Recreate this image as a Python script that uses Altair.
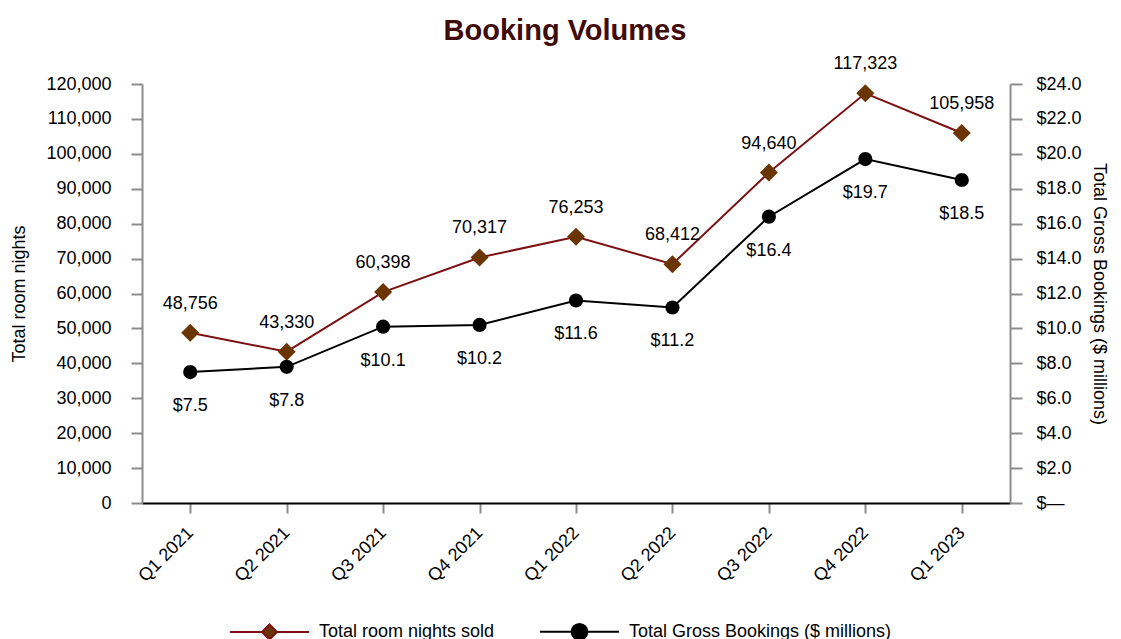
import altair as alt
import pandas as pd

quarters = ["Q1 2021", "Q2 2021", "Q3 2021", "Q4 2021", "Q1 2022",
            "Q2 2022", "Q3 2022", "Q4 2022", "Q1 2023"]
room_nights = [48756, 43330, 60398, 70317, 76253, 68412, 94640, 117323, 105958]
gross_bookings = [7.5, 7.8, 10.1, 10.2, 11.6, 11.2, 16.4, 19.7, 18.5]
series_names = ["Total room nights sold", "Total Gross Bookings ($ millions)"]
left_ticks = list(range(0, 120001, 10000))
right_ticks = list(range(0, 25, 2))

df = pd.DataFrame({"quarter": quarters, "rooms": room_nights, "bookings": gross_bookings})

FONT = "Liberation Sans"
ROOM_LINE = "#7b1113"
ROOM_MARK = "#6b3404"
BOOK = "#000000"
GRAY = "#8c8c8c"
TITLE_COLOR = "#3f0b0b"

diamond_path = "M-1,0H-0.19M0.19,0H1M0,-0.19L0.19,0L0,0.19L-0.19,0Z"
circle_path = ("M-1,0H-0.2M0.2,0H1M-0.2,0A0.2,0.2,0,1,0,0.2,0"
               "A0.2,0.2,0,1,0,-0.2,0Z")

x_enc = alt.X(
    "quarter:N", sort=quarters, title=None,
    scale=alt.Scale(type="point", padding=0.5),
    axis=alt.Axis(labelAngle=-45, labelAlign="right", labelBaseline="middle",
                  domainColor="#000000", domainWidth=2, tickColor=GRAY,
                  tickWidth=2, tickSize=10, labelPadding=17, labelFontSize=18,
                  labelFont=FONT, labelColor="#000000"),
)

y_left = alt.Y(
    "rooms:Q", scale=alt.Scale(domain=[0, 120000], nice=False),
    axis=alt.Axis(values=left_ticks, format=",.0f", title="Total room nights",
                  grid=False, domainColor=GRAY, domainWidth=2, tickColor=GRAY,
                  tickWidth=2, tickSize=11, labelPadding=20, labelFontSize=18,
                  labelFont=FONT, labelColor="#000000", titleFont=FONT,
                  titleFontSize=18, titleFontWeight="normal", titleColor="#000000",
                  titlePadding=17),
)

y_right = alt.Y(
    "bookings:Q", scale=alt.Scale(domain=[0, 24], nice=False),
    axis=alt.Axis(orient="right", values=right_ticks,
                  labelExpr="datum.value == 0 ? '$\u2014' : '$' + format(datum.value, '.1f')",
                  title="Total Gross Bookings ($ millions)",
                  grid=False, domainColor=GRAY, domainWidth=2, tickColor=GRAY,
                  tickWidth=2, tickSize=12, labelPadding=14, labelFontSize=18,
                  labelFont=FONT, labelColor="#000000", titleFont=FONT,
                  titleFontSize=18, titleFontWeight="normal", titleColor="#000000",
                  titlePadding=8),
)

base = alt.Chart(df)

rooms_line = base.mark_line(color=ROOM_LINE, strokeWidth=2).encode(x=x_enc, y=y_left)
rooms_pts = base.mark_point(shape="diamond", filled=True, size=324, color=ROOM_MARK,
                            opacity=1).encode(x=x_enc, y=y_left)
rooms_txt = base.mark_text(dy=-29, fontSize=18, font=FONT, color="#000000").encode(
    x=x_enc, y=y_left, text=alt.Text("rooms:Q", format=","))

legend = alt.Legend(title=None, orient="none", legendX=87, legendY=507,
                    direction="horizontal", symbolSize=6241, symbolStrokeWidth=2,
                    symbolOpacity=1, labelFontSize=18, labelFont=FONT,
                    labelColor="#000000", labelOffset=9, columnPadding=41,
                    labelLimit=500)

legend_layer = base.transform_fold(
    ["rooms", "bookings"], as_=["key", "val"]
).transform_calculate(
    series="datum.key == 'rooms' ? 'Total room nights sold' : 'Total Gross Bookings ($ millions)'"
).mark_point(opacity=0, filled=True).encode(
    x=x_enc, y=y_left,
    stroke=alt.Stroke("series:N", scale=alt.Scale(domain=series_names, range=[ROOM_LINE, BOOK]), legend=legend),
    fill=alt.Fill("series:N", scale=alt.Scale(domain=series_names, range=[ROOM_MARK, BOOK]), legend=legend),
    shape=alt.Shape("series:N", scale=alt.Scale(domain=series_names, range=[diamond_path, circle_path]), legend=legend),
)

book_line = base.mark_line(color=BOOK, strokeWidth=2).encode(x=x_enc, y=y_right)
book_pts = base.mark_point(shape="circle", filled=True, size=201, color=BOOK,
                           opacity=1).encode(x=x_enc, y=y_right)
book_txt = base.mark_text(dy=34, fontSize=18, font=FONT, color="#000000").encode(
    x=x_enc, y=y_right, text=alt.Text("bookings:Q", format="$.1f"))

left = alt.layer(rooms_line, rooms_pts, rooms_txt, legend_layer)
right = alt.layer(book_line, book_pts, book_txt)

chart = alt.layer(left, right).resolve_scale(y="independent").properties(
    width=868, height=419,
    title=alt.Title("Booking Volumes", fontSize=29, font=FONT, fontWeight="bold",
                    color=TITLE_COLOR, anchor="middle", frame="bounds", offset=9,
                    dx=6),
    autosize=alt.AutoSizeParams(type="none"),
    padding={"left": 134, "top": 76, "right": 103, "bottom": 136},
).configure_view(stroke=None)

chart.save("out.html", embed_options={"renderer": "svg", "actions": False})
